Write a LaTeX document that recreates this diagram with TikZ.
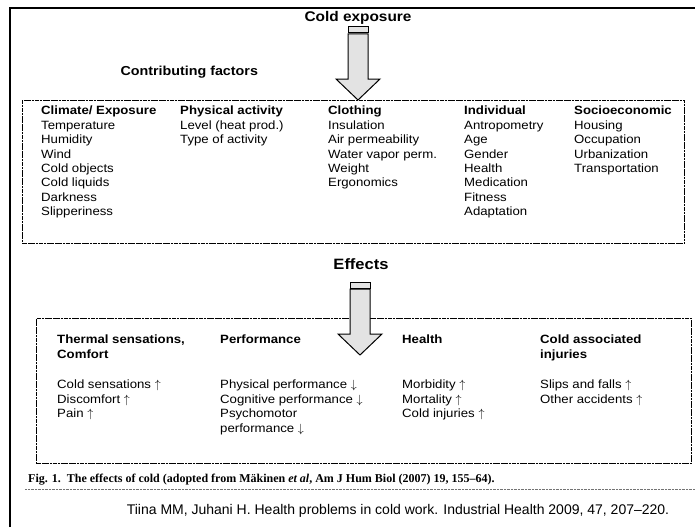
\documentclass[tikz,border=0pt]{standalone}
\usepackage{fontspec}
\setmainfont{Liberation Sans}[FakeStretch=1.1]
\newfontfamily\capfont{Liberation Serif}
\newfontfamily\citefont{Liberation Sans}

\begin{document}
\begin{tikzpicture}[x=1pt, y=-1pt,
  frame/.style={line width=2.6pt},
  box/.style={draw, line width=0.7pt, dash pattern=on 2.2pt off 0.5pt,
              inner sep=0pt},
  title/.style={font=\fontsize{14}{16}\selectfont\bfseries},
  sub/.style={font=\fontsize{13}{15}\selectfont\bfseries},
  col/.style={anchor=north west, inner sep=0pt, align=left,
              font=\fontsize{12}{14.4}\selectfont},
  arrfill/.style={draw, fill=black!11, line width=1pt},
  coldarrow/.pic={
    \draw[arrfill] (-10,0) rectangle (10,6);
    \draw[arrfill] (-10,7) -- (10,7) -- (10,52) -- (22,52) -- (0,73)
      -- (-22,52) -- (-10,52) -- cycle;
  }
]
\useasboundingbox (0,0) rectangle (695,527);
\draw[frame] (10,527) -- (10,8) -- (695,8);

% contributing factors
\node[title] (expo) at (358,18) {Cold exposure};
\node[sub, anchor=west] (contrib) at (117,72) {Contributing factors};
\node[box, anchor=north west, minimum width=662pt, minimum height=143pt]
  (factors) at (22,100) {};
\pic at (358,27) {coldarrow};

\node[col] (climate) at (41,106) {\textbf{Climate/ Exposure}\\Temperature\\Humidity\\Wind\\Cold objects\\Cold liquids\\Darkness\\Slipperiness};
\node[col] (activity) at (180,106) {\textbf{Physical activity}\\Level (heat prod.)\\Type of activity};
\node[col] (clothing) at (328,106) {\textbf{Clothing}\\Insulation\\Air permeability\\Water vapor perm.\\Weight\\Ergonomics};
\node[col] (individual) at (464,106) {\textbf{Individual}\\Antropometry\\Age\\Gender\\Health\\Medication\\Fitness\\Adaptation};
\node[col] (socio) at (574,106) {\textbf{Socioeconomic}\\Housing\\Occupation\\Urbanization\\Transportation};

% effects
\node[font=\fontsize{15}{17}\selectfont\bfseries] (effects) at (361,264) {Effects};
\node[box, anchor=north west, minimum width=655pt, minimum height=145pt]
  (effbox) at (36,318) {};
\pic at (360,282) {coldarrow};

\node[col] (thermal) at (57,335) {\textbf{Thermal sensations,}\\\textbf{Comfort}};
\node[col] (perf) at (220,335) {\textbf{Performance}};
\node[col] (health) at (402,335) {\textbf{Health}};
\node[col] (injuries) at (540,335) {\textbf{Cold associated}\\\textbf{injuries}};

\node[col] (thermallist) at (57,380) {Cold sensations $\uparrow$\\Discomfort $\uparrow$\\Pain $\uparrow$};
\node[col] (perflist) at (220,380) {Physical performance $\downarrow$\\Cognitive performance $\downarrow$\\Psychomotor\\performance $\downarrow$};
\node[col] (healthlist) at (402,380) {Morbidity $\uparrow$\\Mortality $\uparrow$\\Cold injuries $\uparrow$};
\node[col] (injurylist) at (540,380) {Slips and falls $\uparrow$\\Other accidents $\uparrow$};

% caption and source
\node[anchor=base west, inner sep=0pt, font=\capfont\fontsize{12}{14}\selectfont\bfseries]
  (fig) at (28,482) {Fig. 1.\ \ The effects of cold (adopted from Mäkinen \textit{et al}, Am J Hum Biol (2007) 19, 155–64).};
\draw[black!55, line width=0.5pt, dash pattern=on 0.6pt off 0.8pt] (25,489) -- (695,489);
\node[anchor=base, inner sep=0pt, font=\citefont\fontsize{14}{16}\selectfont]
  (cite) at (398,514) {Tiina MM, Juhani H. Health problems in cold work. Industrial Health 2009, 47, 207–220.};
\end{tikzpicture}
\end{document}
